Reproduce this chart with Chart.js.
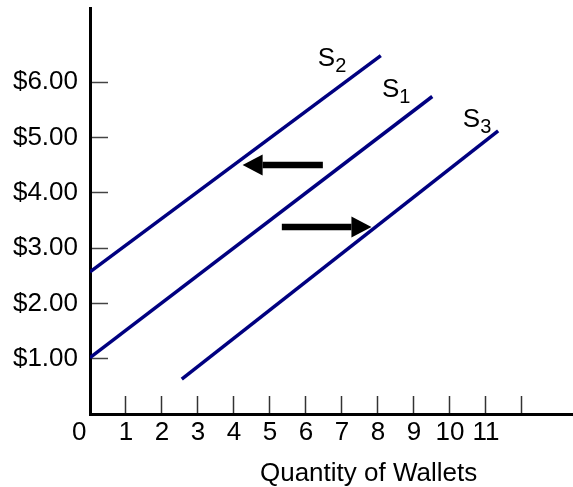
<!DOCTYPE html>
<html>
<head>
<meta charset="utf-8">
<script src="https://cdn.jsdelivr.net/npm/chart.js@4.4.1/dist/chart.umd.min.js"></script>
<style>
  html, body { margin: 0; padding: 0; background: #fff; }
  #wrap { width: 573px; height: 487px; }
</style>
</head>
<body>
<div id="wrap"><canvas id="myChart" width="573" height="487"></canvas></div>
<script>
"use strict";

// ticks
const xTicks = [0, 1, 2, 3, 4, 5, 6, 7, 8, 9, 10, 11, 12];
const xTickLabels = ["0   ", "1", "2", "3", "4", "5", "6", "7", "8", "9", "10", "11", ""];
const yTicks = [1, 2, 3, 4, 5, 6];
const yTickLabels = ["$1.00", "$2.00", "$3.00", "$4.00", "$5.00", "$6.00"];
const xTitle = "Quantity of Wallets";

// supply curves (quantity, price at both ends)
const s1Qty = [0, 9.51];
const s1Price = [1.02, 5.74];
const s2Qty = [0, 8.08];
const s2Price = [2.57, 6.48];
const s3Qty = [2.55, 11.34];
const s3Price = [0.63, 5.12];

// curve labels
const labelSubs = ["1", "2", "3"];
const labelQty = [8.11, 6.33, 10.36];
const labelPrice = [5.73, 6.29, 5.19];

// shift arrows
const arrowFromQty = [6.47, 5.33];
const arrowToQty = [4.24, 7.82];
const arrowPrice = [4.5, 3.38];

const navy = "#000080";
const font = "Liberation Sans, Arial, sans-serif";

function pts(qs, ps) {
  return qs.map((q, i) => ({ x: q, y: ps[i] }));
}

const overlay = {
  id: "overlay",
  afterDatasetsDraw(chart) {
    const { ctx, scales } = chart;
    const x = scales.x, y = scales.y;
    ctx.save();

    // arrows
    ctx.fillStyle = "#000";
    ctx.strokeStyle = "#000";
    arrowPrice.forEach((p, i) => {
      const x0 = x.getPixelForValue(arrowFromQty[i]);
      const x1 = x.getPixelForValue(arrowToQty[i]);
      const py = y.getPixelForValue(p);
      const dir = Math.sign(x1 - x0);
      const base = x1 - dir * 20;
      ctx.lineWidth = 6.5;
      ctx.beginPath();
      ctx.moveTo(x0, py);
      ctx.lineTo(base, py);
      ctx.stroke();
      ctx.beginPath();
      ctx.moveTo(x1, py);
      ctx.lineTo(base, py - 10.5);
      ctx.lineTo(base, py + 10.5);
      ctx.closePath();
      ctx.fill();
    });

    // S labels with subscripts
    ctx.fillStyle = "#000";
    ctx.textAlign = "left";
    ctx.textBaseline = "alphabetic";
    labelSubs.forEach((sub, i) => {
      const lx = x.getPixelForValue(labelQty[i]);
      const ly = y.getPixelForValue(labelPrice[i]);
      ctx.font = "26px " + font;
      ctx.fillText("S", lx, ly);
      const w = ctx.measureText("S").width;
      ctx.font = "20px " + font;
      ctx.fillText(sub, lx + w, ly + 6);
    });

    // x axis title
    ctx.font = "26px " + font;
    ctx.textAlign = "center";
    ctx.fillText(xTitle, x.getPixelForValue(7.74), chart.chartArea.bottom + 67);

    ctx.restore();
  }
};

const lineSet = (qs, ps) => ({
  data: pts(qs, ps),
  showLine: true,
  borderColor: navy,
  borderWidth: 3.5,
  pointRadius: 0,
  fill: false
});

const config = {
  type: "scatter",
  data: {
    datasets: [lineSet(s1Qty, s1Price), lineSet(s2Qty, s2Price), lineSet(s3Qty, s3Price)]
  },
  options: {
    responsive: false,
    animation: false,
    devicePixelRatio: 1,
    layout: { padding: { top: 8, right: 0, left: 0, bottom: 0 } },
    plugins: {
      legend: { display: false },
      title: { display: false },
      tooltip: { enabled: false }
    },
    scales: {
      x: {
        type: "linear",
        min: 0,
        max: 13.42,
        afterBuildTicks: (s) => { s.ticks = xTicks.map((v) => ({ value: v })); },
        afterFit: (s) => {
          s.height = 73;
          s.paddingLeft = 0;
          s.paddingRight = 0;
        },
        border: { display: true, color: "#000", width: 3 },
        grid: {
          display: true,
          drawOnChartArea: false,
          drawTicks: true,
          tickLength: -18,
          tickColor: "#333",
          tickWidth: 1.5
        },
        ticks: {
          padding: 21,
          color: "#000",
          autoSkip: false,
          maxRotation: 0,
          font: { family: font, size: 26 },
          callback: (v, i) => xTickLabels[i]
        }
      },
      y: {
        type: "linear",
        min: 0,
        max: 7.34,
        afterBuildTicks: (s) => { s.ticks = yTicks.map((v) => ({ value: v })); },
        afterFit: (s) => {
          s.width = 90;
          s.paddingTop = 0;
          s.paddingBottom = 0;
        },
        border: { display: true, color: "#000", width: 3 },
        grid: {
          display: true,
          drawOnChartArea: false,
          drawTicks: true,
          tickLength: -18,
          tickColor: "#444",
          tickWidth: 1.5
        },
        ticks: {
          padding: 30,
          color: "#000",
          autoSkip: false,
          font: { family: font, size: 26 },
          callback: (v, i) => yTickLabels[i]
        }
      }
    }
  },
  plugins: [overlay]
};

const myChart = new Chart(document.getElementById("myChart"), config);
</script>
</body>
</html>
